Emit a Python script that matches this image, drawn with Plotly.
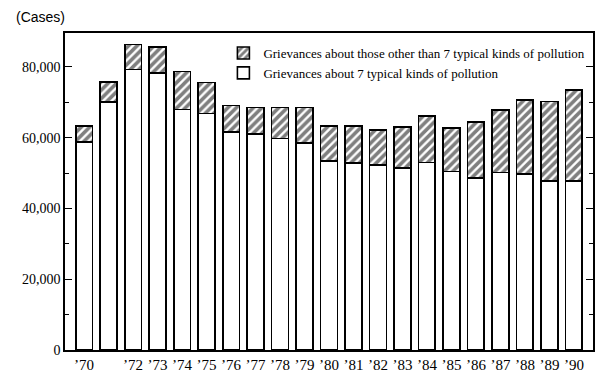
import plotly.graph_objects as go

years = list(range(1970, 1991))
year_labels = ["’70", "", "’72", "’73", "’74", "’75", "’76", "’77", "’78", "’79", "’80",
               "’81", "’82", "’83", "’84", "’85", "’86", "’87", "’88", "’89", "’90"]
total_cases = [63300, 75700, 86400, 85600, 78700, 75600, 69100, 68600, 68600, 68600, 63300,
               63300, 62200, 63000, 66100, 62800, 64400, 67800, 70600, 70200, 73500]
typical7_cases = [58800, 70100, 79300, 78300, 68000, 66900, 61700, 61100, 59800, 58500, 53500,
                  52900, 52300, 51400, 53000, 50400, 48700, 50200, 49700, 47800, 47800]
other_cases = [t - s for t, s in zip(total_cases, typical7_cases)]

name_typical = "Grievances about 7 typical kinds of pollution"
name_other = "Grievances about those other than 7 typical kinds of pollution"

serif = "Liberation Serif"

fig = go.Figure()
fig.add_trace(go.Bar(
    x=years, y=typical7_cases, name=name_typical,
    marker=dict(color="white", line=dict(color="black", width=1.6)),
))
fig.add_trace(go.Bar(
    x=years, y=other_cases, name=name_other,
    marker=dict(color="white", line=dict(color="black", width=1.6),
                pattern=dict(shape="/", fgcolor="black", bgcolor="white", size=6, solidity=0.6)),
))

fig.update_layout(
    width=610, height=385,
    barmode="stack", bargap=0.32,
    paper_bgcolor="white", plot_bgcolor="white",
    margin=dict(l=57, r=25, t=25, b=43, autoexpand=False),
    font=dict(family=serif, size=14, color="black"),
    showlegend=True,
    legend=dict(x=0.30, y=0.984, xanchor="left", yanchor="top",
                traceorder="reversed", bgcolor="rgba(0,0,0,0)",
                font=dict(family=serif, size=13, color="black"),
                itemwidth=30, tracegroupgap=0),
    annotations=[dict(text="(Cases)", xref="paper", yref="paper", x=0, y=1,
                      xanchor="right", yanchor="bottom", xshift=2, yshift=6, showarrow=False,
                      font=dict(family="Liberation Sans", size=14, color="black"))],
)
fig.update_xaxes(
    range=[1969.22, 1990.78], tickvals=years, ticktext=year_labels,
    showline=True, linecolor="black", linewidth=1.5, mirror=True,
    ticks="", showgrid=False, zeroline=False,
    tickfont=dict(family=serif, size=15),
)
fig.update_yaxes(
    range=[0, 89600], tickvals=[0, 20000, 40000, 60000, 80000], tickformat=",",
    showline=True, linecolor="black", linewidth=1.5, mirror="ticks",
    ticks="inside", ticklen=7, tickcolor="black", tickwidth=1.2,
    minor=dict(dtick=10000, ticks="inside", ticklen=4, tickcolor="black", tickwidth=1.2),
    showgrid=False, zeroline=False,
    tickfont=dict(family=serif, size=14),
)

fig.write_html("out.html")
